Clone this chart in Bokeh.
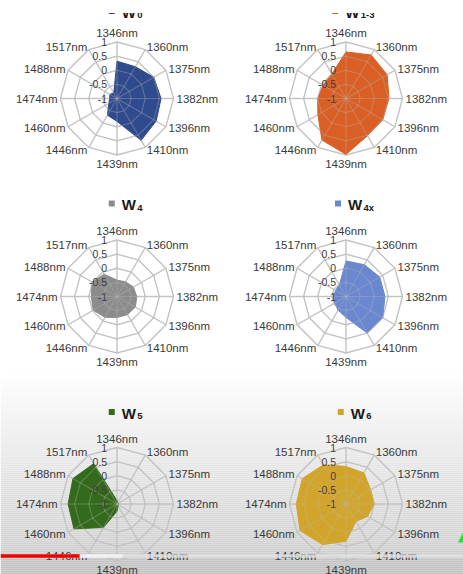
import numpy as np
from bokeh.plotting import figure
from bokeh.models import Range1d, ColumnDataSource
from bokeh.core.properties import value
from bokeh.embed import file_html
from bokeh.resources import INLINE

# Spoke labels, clockwise from the top
wavelengths = ["1346nm", "1360nm", "1375nm", "1382nm", "1396nm", "1410nm",
               "1439nm", "1446nm", "1460nm", "1474nm", "1488nm", "1517nm"]

# Radial scale
ring_ticks = [-1, -0.5, 0, 0.5, 1]
ring_tick_labels = ["-1", "-0.5", "0", "0.5", "1"]

# Series (one radar per series)
series_subs = ["0", "1-3", "4", "4x", "5", "6"]
w0 = [0.32, 0.30, 0.50, 0.56, 0.60, 0.71, -0.19, -0.32, -0.67, -0.74, -0.71, -0.77]
w1_3 = [0.65, 0.78, 0.68, 0.52, 0.50, 0.52, 0.98, 0.70, 0.15, 0.00, -0.06, 0.00]
w4 = [-0.42, -0.40, -0.33, -0.30, -0.25, -0.26, -0.26, -0.15, -0.03, -0.09, 0.02, -0.09]
w4x = [0.26, 0.30, 0.38, 0.38, 0.50, 0.49, -0.26, -0.44, -0.54, -0.57, -0.57, -0.53]
w5 = [-0.88, -0.95, -0.95, -0.95, -0.95, -0.92, -0.74, -0.04, 0.76, 0.73, 0.80, 0.65]
w6 = [0.33, 0.27, 0.01, 0.00, -0.12, -0.29, 0.32, 0.66, 0.88, 0.76, 0.79, 0.60]
series_values = [w0, w1_3, w4, w4x, w5, w6]
series_colors = ["#2f4b8e", "#da5f24", "#8c8c8c", "#6a88cf", "#346a1c", "#d2a52a"]

# Layout of the 2 x 3 grid of radars (canvas pixels)
W, H = 463, 574
col_x = [116.5, 345.5]
row_y = [98.0, 296.0, 503.5]
title_y = [11.5, 204.0, 412.5]   # baseline of the "W" in each row
R = 56.5
vmin, vmax = ring_ticks[0], ring_ticks[-1]

p = figure(width=W, height=H, x_range=Range1d(0, W), y_range=Range1d(H, 0),
           output_backend="svg", toolbar_location=None, min_border=0)
p.axis.visible = False
p.grid.visible = False
p.outline_line_color = None
p.background_fill_color = "white"
p.border_fill_color = "white"

# Soft grey shading behind the bottom row
g_y = np.arange(372, H + 1, 2.0)
g_stops_y = [372, 400, 450, 500, 540, 553, 558, 574]
g_stops_v = [255, 247, 234, 222, 211, 206, 196, 192]
g_v = np.interp(g_y, g_stops_y, g_stops_v)
g_cols = ["#%02x%02x%02x" % (int(v), int(v), int(v)) for v in g_v]
p.quad(left=0, right=W, top=g_y, bottom=g_y + 2.05, fill_color=g_cols, line_color=None)

theta = np.arange(12) * 2 * np.pi / 12
FONT = value("Liberation Sans")


def radius(v):
    return (np.asarray(v, dtype=float) - vmin) / (vmax - vmin) * R


def to_xy(cx, cy, r, th):
    return cx + r * np.sin(th), cy - r * np.cos(th)


label_groups = {}

for i, (vals, col, sub) in enumerate(zip(series_values, series_colors, series_subs)):
    cx = col_x[i % 2]
    cy = row_y[i // 2]
    ty0 = title_y[i // 2]

    ring_xs, ring_ys = [], []
    for t in ring_ticks[1:]:
        rx, ry = to_xy(cx, cy, radius(t), np.append(theta, theta[0]))
        ring_xs.append(list(rx))
        ring_ys.append(list(ry))
    sx, sy = to_xy(cx, cy, R, theta)
    spoke_xs = [[cx, x] for x in sx]
    spoke_ys = [[cy, y] for y in sy]

    # grid under the fill
    p.multi_line(ring_xs, ring_ys, line_color="#c9c9c9", line_width=1.3)
    p.multi_line(spoke_xs, spoke_ys, line_color="#c9c9c9", line_width=1.3)

    # filled series polygon
    px, py = to_xy(cx, cy, radius(vals), theta)
    p.patch(list(px), list(py), fill_color=col, line_color=col, line_width=1)

    # faint grid showing through the fill
    p.multi_line(ring_xs, ring_ys, line_color="#b8b8b8", line_alpha=0.35, line_width=1.1)
    p.multi_line(spoke_xs, spoke_ys, line_color="#b8b8b8", line_alpha=0.35, line_width=1.1)

    # radial tick labels along the top spoke
    tx = [cx - 10] * len(ring_ticks)
    ty = [cy - float(radius(t)) for t in ring_ticks]
    p.text(tx, ty, text=ring_tick_labels, text_font=FONT, text_font_size="10.5px",
           text_color="#404040", text_align="right", text_baseline="middle")

    # spoke labels
    lx, ly = to_xy(cx, cy, R + 3, theta)
    for k, name in enumerate(wavelengths):
        s, c = np.sin(theta[k]), np.cos(theta[k])
        align = "left" if s > 0.01 else ("right" if s < -0.01 else "center")
        base = "bottom" if c > 0.99 else ("top" if c < -0.99 else "middle")
        grp = label_groups.setdefault((align, base), dict(x=[], y=[], t=[]))
        grp["x"].append(lx[k])
        grp["y"].append(ly[k])
        grp["t"].append(name)

    # legend-style title: coloured square, "W" with subscript, centred as a group
    sub_w = 5.5 * len(sub)
    group_w = 6 + 7 + 16 + sub_w
    gx = cx + 9 - group_w / 2
    p.rect(x=[gx + 3], y=[ty0 - 1], width=6, height=6, fill_color=col, line_color=None)
    p.text([gx + 13], [ty0], text=["W"], text_font=FONT, text_font_size="15px",
           text_font_style="bold", text_color="#1a1a1a", text_align="left",
           text_baseline="alphabetic")
    p.text([gx + 28.5], [ty0 + 3], text=[sub], text_font=FONT, text_font_size="9.5px",
           text_font_style="bold", text_color="#1a1a1a", text_align="left",
           text_baseline="alphabetic")

for (align, base), g in label_groups.items():
    src = ColumnDataSource(dict(x=g["x"], y=g["y"], t=g["t"]))
    p.text("x", "y", text="t", source=src, text_font=FONT, text_font_size="11.5px",
           text_color="#3a3a3a", text_align=align, text_baseline=base)

# white strip along the top edge
p.quad(left=0, right=W, top=0, bottom=12.5, fill_color="white", line_color=None)

# playback progress strip
p.quad(left=0, right=W, top=553.8, bottom=557.2, fill_color="#e2e2e2", fill_alpha=0.8, line_color=None)
p.quad(left=79, right=122, top=553.8, bottom=557.2, fill_color="#f2f2f2", line_color=None)
p.quad(left=0, right=79, top=553.8, bottom=557.2, fill_color="#f00000", line_color=None)
p.patch([457.5, 463, 463], [542, 531, 542], fill_color="#2fdc2f", line_color=None)

open("out.html", "w").write(file_html(p, INLINE))
